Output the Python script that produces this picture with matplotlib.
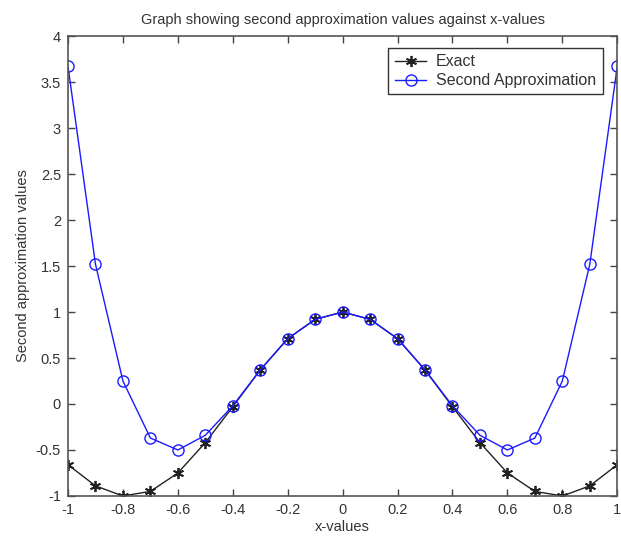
import matplotlib
matplotlib.use("Agg")
import matplotlib.pyplot as plt

x_values = [-1.0, -0.9, -0.8, -0.7, -0.6, -0.5, -0.4, -0.3, -0.2, -0.1, 0.0,
            0.1, 0.2, 0.3, 0.4, 0.5, 0.6, 0.7, 0.8, 0.9, 1.0]
exact = [-0.66, -0.89, -1.0, -0.95, -0.75, -0.42, -0.03, 0.37, 0.71, 0.92, 1.0,
         0.92, 0.71, 0.37, -0.03, -0.42, -0.75, -0.95, -1.0, -0.89, -0.66]
second_approx = [3.67, 1.52, 0.25, -0.37, -0.50, -0.34, -0.02, 0.37, 0.71, 0.92, 1.0,
                 0.92, 0.71, 0.37, -0.02, -0.34, -0.50, -0.37, 0.25, 1.52, 3.67]
x_ticks = [-1, -0.8, -0.6, -0.4, -0.2, 0, 0.2, 0.4, 0.6, 0.8, 1]
x_tick_labels = ["-1", "-0.8", "-0.6", "-0.4", "-0.2", "0", "0.2", "0.4", "0.6", "0.8", "1"]
y_ticks = [-1, -0.5, 0, 0.5, 1, 1.5, 2, 2.5, 3, 3.5, 4]
y_tick_labels = ["-1", "-0.5", "0", "0.5", "1", "1.5", "2", "2.5", "3", "3.5", "4"]

plt.rcParams['font.family'] = ['Liberation Sans', 'DejaVu Sans']
txt = '#333333'

fig = plt.figure(figsize=(6.21, 5.46), dpi=100)
ax = fig.add_axes([0.1095, 0.0916, 0.8845, 0.8424])

ax.plot(x_values, exact, color='#222222', lw=1.0, marker=(6, 2, 0), markersize=8,
        markeredgewidth=1.3, label='Exact')
ax.plot(x_values, second_approx, color='#1a1aff', lw=1.0, marker='o', markersize=8,
        markerfacecolor='none', markeredgecolor='#1a1aff', markeredgewidth=1.0,
        label='Second Approximation')

ax.set_xlim(-1, 1)
ax.set_ylim(-1, 4)
ax.set_xticks(x_ticks)
ax.set_xticklabels(x_tick_labels)
ax.set_yticks(y_ticks)
ax.set_yticklabels(y_tick_labels)
ax.tick_params(direction='in', top=True, right=True, length=5, width=1,
               labelsize=10.5, labelcolor=txt, color='#444444', pad=5)
for s in ax.spines.values():
    s.set_color('#555555')
    s.set_linewidth(1.2)

ax.set_title('Graph showing second approximation values against x-values',
             fontsize=10.5, color=txt, pad=9)
ax.set_xlabel('x-values', fontsize=10.5, color=txt, labelpad=2)
ax.set_ylabel('Second approximation values', fontsize=10.5, color=txt, labelpad=4)

leg = ax.legend(loc='upper right', bbox_to_anchor=(0.982, 0.985), fontsize=11.5,
                fancybox=False, edgecolor='#333333', framealpha=1,
                borderpad=0.4, labelspacing=0.25, handlelength=2.0, handletextpad=0.6,
                borderaxespad=0.3)
leg.get_frame().set_linewidth(1.0)
for t in leg.get_texts():
    t.set_color(txt)

fig.savefig('out.png', dpi=100)
